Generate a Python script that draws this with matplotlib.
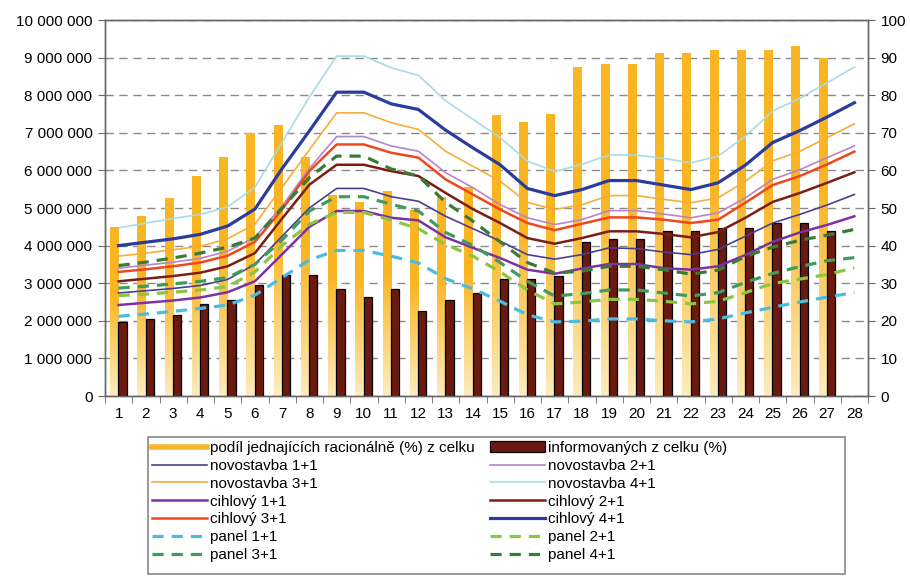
import numpy as np
import matplotlib
matplotlib.use("Agg")
import matplotlib.pyplot as plt
from matplotlib.lines import Line2D
from matplotlib.patches import Patch, Rectangle
from matplotlib.ticker import FuncFormatter, MultipleLocator

plt.rcParams['font.family'] = ['Liberation Sans', 'DejaVu Sans']
plt.rcParams['font.size'] = 11

# categories 1..28 (bars only for 1..27)
months = list(range(1, 29))
bar_months = list(range(1, 28))

# bars, right axis (%)
racionalne = [45, 48, 52.7, 58.5, 63.5, 70, 72, 63.5, 53.5, 51.7, 54.6, 49.5, 53, 55.6,
              74.7, 73, 75, 87.6, 88.4, 88.4, 91.1, 91.1, 92, 92, 92, 93.2, 90]
informovani = [19.8, 20.6, 21.5, 24.5, 25.5, 29.5, 32.2, 32.2, 28.5, 26.4, 28.5, 22.7, 25.5, 27.3,
               31, 31, 31.9, 40.9, 41.7, 41.7, 43.9, 43.9, 44.8, 44.8, 45.9, 45.9, 43.9]

# prices, left axis (millions)
nov1 = [2.74, 2.8, 2.86, 2.94, 3.1, 3.5, 4.25, 5.0, 5.52, 5.52, 5.3, 5.18, 4.78, 4.45,
        4.12, 3.76, 3.64, 3.76, 3.94, 3.92, 3.83, 3.76, 3.9, 4.25, 4.6, 4.83, 5.08, 5.36]
nov2 = [3.4, 3.48, 3.56, 3.66, 3.85, 4.22, 5.05, 6.05, 6.9, 6.9, 6.65, 6.51, 5.94, 5.54,
        5.09, 4.74, 4.56, 4.69, 4.93, 4.93, 4.84, 4.74, 4.87, 5.27, 5.76, 6.02, 6.34, 6.65]
nov3 = [3.72, 3.8, 3.89, 3.98, 4.18, 4.57, 5.55, 6.55, 7.53, 7.53, 7.27, 7.09, 6.51, 6.11,
        5.71, 5.15, 4.96, 5.09, 5.33, 5.33, 5.23, 5.14, 5.27, 5.71, 6.25, 6.51, 6.87, 7.24]
nov4 = [4.47, 4.6, 4.72, 4.83, 5.03, 5.55, 6.75, 7.95, 9.04, 9.04, 8.73, 8.53, 7.85, 7.36,
        6.87, 6.25, 5.97, 6.16, 6.41, 6.41, 6.32, 6.2, 6.38, 6.91, 7.58, 7.92, 8.33, 8.75]
cih1 = [2.42, 2.48, 2.54, 2.62, 2.76, 3.05, 3.77, 4.5, 4.92, 4.92, 4.74, 4.67, 4.22, 3.94,
        3.67, 3.36, 3.25, 3.39, 3.51, 3.51, 3.4, 3.36, 3.45, 3.75, 4.1, 4.35, 4.55, 4.78]
cih2 = [3.05, 3.12, 3.19, 3.28, 3.45, 3.8, 4.72, 5.62, 6.15, 6.15, 5.98, 5.85, 5.4, 4.97,
        4.6, 4.2, 4.05, 4.2, 4.38, 4.38, 4.31, 4.22, 4.36, 4.74, 5.16, 5.4, 5.67, 5.95]
cih3 = [3.3, 3.37, 3.45, 3.55, 3.73, 4.1, 4.96, 5.98, 6.69, 6.69, 6.47, 6.34, 5.76, 5.36,
        4.96, 4.6, 4.41, 4.58, 4.75, 4.75, 4.69, 4.6, 4.69, 5.14, 5.61, 5.85, 6.16, 6.5]
cih4 = [4.0, 4.09, 4.18, 4.3, 4.52, 4.97, 6.05, 7.05, 8.08, 8.08, 7.77, 7.62, 7.07, 6.6,
        6.15, 5.52, 5.33, 5.49, 5.73, 5.73, 5.61, 5.49, 5.67, 6.14, 6.74, 7.06, 7.42, 7.8]
pan1 = [2.12, 2.18, 2.25, 2.33, 2.42, 2.68, 3.15, 3.62, 3.87, 3.87, 3.72, 3.54, 3.12, 2.85,
        2.52, 2.16, 1.97, 1.99, 2.05, 2.05, 2.0, 1.97, 2.05, 2.21, 2.36, 2.5, 2.63, 2.75]
pan2 = [2.67, 2.71, 2.76, 2.82, 2.91, 3.3, 4.0, 4.57, 4.88, 4.88, 4.68, 4.45, 4.03, 3.72,
        3.3, 2.82, 2.45, 2.5, 2.57, 2.57, 2.52, 2.45, 2.52, 2.75, 2.99, 3.11, 3.23, 3.41]
pan3 = [2.87, 2.92, 2.98, 3.05, 3.15, 3.5, 4.15, 4.92, 5.3, 5.3, 5.1, 4.92, 4.35, 4.0,
        3.55, 3.05, 2.66, 2.72, 2.82, 2.82, 2.74, 2.66, 2.75, 3.02, 3.26, 3.44, 3.6, 3.68]
pan4 = [3.47, 3.56, 3.67, 3.8, 3.96, 4.2, 5.0, 5.81, 6.38, 6.38, 6.04, 5.85, 5.15, 4.65,
        4.1, 3.55, 3.27, 3.32, 3.45, 3.45, 3.36, 3.24, 3.35, 3.71, 3.96, 4.14, 4.28, 4.43]

bar_label1 = "podíl jednajících racionálně (%) z celku"
bar_label2 = "informovaných z celku (%)"

# (label, data, color, width, dashed)
series = [
    ("novostavba 1+1", nov1, "#4a3f8f", 1.2, False),
    ("novostavba 2+1", nov2, "#b785c9", 1.2, False),
    ("novostavba 3+1", nov3, "#f8ad3a", 1.2, False),
    ("novostavba 4+1", nov4, "#a9dbe3", 1.2, False),
    ("cihlový 1+1", cih1, "#7d32a3", 1.8, False),
    ("cihlový 2+1", cih2, "#7a1e12", 1.8, False),
    ("cihlový 3+1", cih3, "#f0481d", 1.8, False),
    ("cihlový 4+1", cih4, "#2b3c9c", 2.3, False),
    ("panel 1+1", pan1, "#4bbbe6", 2.3, True),
    ("panel 2+1", pan2, "#8cc641", 2.3, True),
    ("panel 3+1", pan3, "#3f9c5e", 2.3, True),
    ("panel 4+1", pan4, "#3b7b38", 2.3, True),
]

fig = plt.figure(figsize=(9.1, 5.77), dpi=100)
ax = fig.add_axes([105 / 910, 1 - 396 / 577, 763 / 910, 376 / 577])
ax2 = ax.twinx()

# bars on the bottom axes (right scale)
x = np.array(bar_months)
yel = ax.bar(x - 0.16, racionalne, width=0.30, color="none", linewidth=0, zorder=2)
pale = np.array([253, 236, 190]) / 255
gold = np.array([249, 181, 34]) / 255
t = np.clip(np.linspace(0, 1, 200) / 0.6, 0, 1)
grad = (pale[None, :] * (1 - t[:, None]) + gold[None, :] * t[:, None])[:, None, :]
for rect in yel:
    x0 = rect.get_x()
    im = ax.imshow(grad, extent=[x0, x0 + rect.get_width(), 0, rect.get_height()],
                   origin="lower", aspect="auto", zorder=2)
    im.set_clip_path(rect)
ax.bar(x + 0.14, informovani, width=0.30, color="#6b1a10", edgecolor="black",
       linewidth=0.9, zorder=3)

ax.set_xlim(0.5, 28.5)
ax.set_ylim(0, 100)
ax.yaxis.tick_right()
ax.yaxis.set_major_locator(MultipleLocator(10))
ax.grid(axis="y", color="#8a8a8a", linestyle=(0, (6, 4)), linewidth=1.0)
ax.set_axisbelow(True)
ax.set_xticks(months)
ax.set_xticks(np.arange(0.5, 29, 1), minor=True)
ax.tick_params(axis="x", which="major", length=0, pad=8, labelsize=11)
ax.tick_params(axis="x", which="minor", length=5, color="#666666", direction="out")
ax.tick_params(axis="y", length=5, color="#666666", labelsize=11, pad=4)

# lines on top (left scale)
ax2.yaxis.tick_left()
handles = {}
for label, vals, col, lw, dashed in series:
    v = np.array(vals) * 1e6
    if dashed:
        ln, = ax2.plot(months, v, color=col, lw=lw, dashes=(3.5, 2.5), label=label)
    else:
        ln, = ax2.plot(months, v, color=col, lw=lw, label=label)
    handles[label] = ln
ax2.set_ylim(0, 10_000_000)
ax2.yaxis.set_major_locator(MultipleLocator(1_000_000))
ax2.yaxis.set_major_formatter(FuncFormatter(lambda v, p: f"{int(v):,}".replace(",", " ")))
ax2.tick_params(axis="y", length=5, color="#666666", labelsize=11, pad=4)

for a in (ax, ax2):
    for s in a.spines.values():
        s.set_color("#666666")
        s.set_linewidth(1.0)

# legend, row order as in the reference
h_yel = Line2D([], [], color="#f9b62a", lw=4)
h_red = Patch(facecolor="#6b1a10", edgecolor="black", linewidth=0.9)
col1 = [(h_yel, bar_label1)] + [(handles[n], n) for n in
        ["novostavba 1+1", "novostavba 3+1", "cihlový 1+1", "cihlový 3+1", "panel 1+1", "panel 3+1"]]
col2 = [(h_red, bar_label2)] + [(handles[n], n) for n in
        ["novostavba 2+1", "novostavba 4+1", "cihlový 2+1", "cihlový 4+1", "panel 2+1", "panel 4+1"]]
hs = [h for h, _ in col1 + col2]
ls = [l for _, l in col1 + col2]
fig.legend(hs, ls, ncol=2, loc="upper left", bbox_to_anchor=(149 / 910, 1 - 438 / 577),
           frameon=False, fontsize=11, handlelength=3.6, handletextpad=0.2,
           columnspacing=1.0, labelspacing=0.25, borderpad=0.2, borderaxespad=0)
fig.add_artist(Rectangle((148 / 910, 1 - 574 / 577), (845 - 148) / 910, (574 - 437) / 577,
                         transform=fig.transFigure, fill=False, edgecolor="#888888", lw=1.2))

fig.savefig("out.png", dpi=100)
